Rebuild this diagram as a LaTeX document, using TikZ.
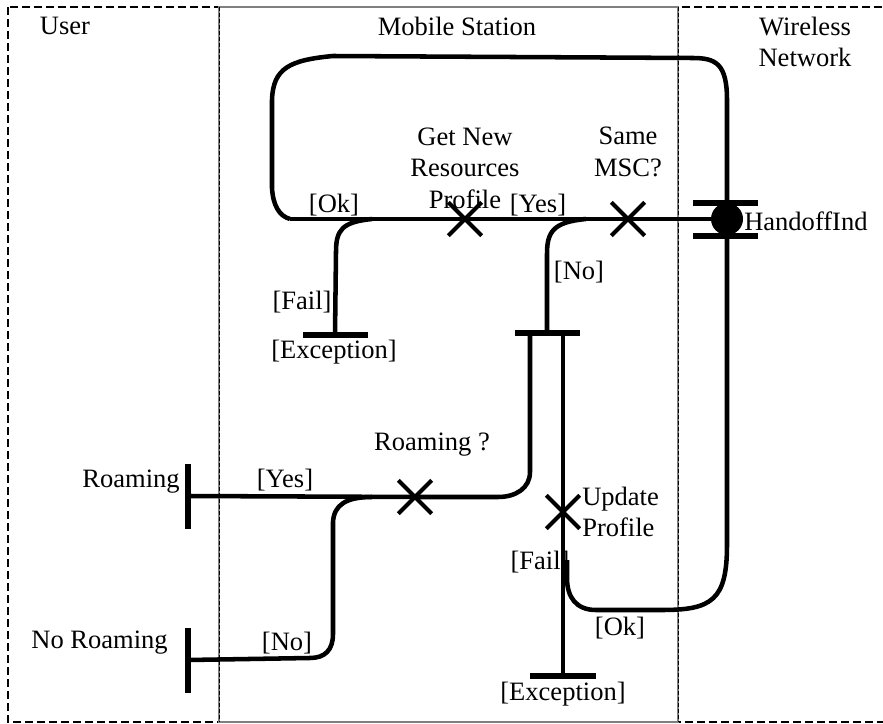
\documentclass[tikz,border=0pt]{standalone}
\usepackage{fontspec}
\setmainfont{Liberation Serif}
\usetikzlibrary{shapes.misc}
\begin{document}
\begin{tikzpicture}[x=0.75pt,y=-0.75pt,
  lbl/.style={inner sep=0pt, font=\fontsize{19.9}{23.6}\selectfont, align=center},
  flow/.style={line width=3.4pt, line cap=butt},
  xmark/.style={cross out, draw, line width=3pt, minimum size=22pt, inner sep=0pt},
  hbar/.style={fill, inner sep=0pt, minimum width=#1, minimum height=3.8pt},
  vbar/.style={fill, inner sep=0pt, minimum height=#1, minimum width=3.8pt},
  lane/.style={line width=0.8pt, dash pattern=on 6pt off 3pt},
  divider/.style={line width=0.6pt, dash pattern=on 3pt off 1.5pt}]
\useasboundingbox (0,0) rectangle (883,724);
\clip (0,0) rectangle (883,724);

% swimlanes
\draw[lane] (8,7) rectangle (900,722);
\draw[gray, line width=0.8pt] (219,7) rectangle (678,722);
\draw[divider] (219,7) -- (219,722);
\draw[divider] (678,7) -- (678,722);

\node[lbl] (user) at (65,26) {User};
\node[lbl] (ms) at (457,26) {Mobile Station};
\node[lbl] (wn) at (805,42) {Wireless\\Network};

% responsibilities and start/end points
\node[circle, fill, minimum size=24pt, inner sep=0pt] (hi) at (727,219) {};
\node[hbar=48.75pt] (hibarT) at (725,203) {};
\node[hbar=48.75pt] (hibarB) at (725,236) {};
\node[lbl, anchor=west] (hilbl) at (744,221) {HandoffInd};

\node[xmark] (gnr) at (465,219) {};
\node[xmark] (smsc) at (628,219) {};
\node[xmark] (rq) at (415,497) {};
\node[xmark] (up) at (563,512) {};

\node[hbar=48.75pt] (exc1) at (335,335) {};
\node[hbar=48.75pt] (fork) at (547,333) {};
\node[hbar=49.5pt] (exc2) at (563,676) {};
\node[vbar=48.75pt] (roam) at (188,496) {};
\node[vbar=48.75pt] (nroam) at (188,660) {};

\coordinate (forkL) at (530,333);
\coordinate (forkR) at (563,333);
\coordinate (okL) at (290,219);
\coordinate (okJ) at (372,219);
\coordinate (noJ) at (586,219);
\coordinate (yesJ) at (372,497);
\coordinate (failJ) at (567,560);

% labels
\node[lbl] at (465,168) {Get New\\Resources\\Profile};
\node[lbl] at (628,152) {Same\\MSC?};
\node[lbl] at (334,205) {[Ok]};
\node[lbl] at (538,205) {[Yes]};
\node[lbl] at (302,302) {[Fail]};
\node[lbl] at (334,352) {[Exception]};
\node[lbl] at (579,272) {[No]};
\node[lbl] at (432,445) {Roaming ?};
\node[lbl] at (285,480) {[Yes]};
\node[lbl, anchor=east] at (180,482) {Roaming};
\node[lbl, anchor=east] at (168,643) {No Roaming};
\node[lbl] at (287,643) {[No]};
\node[lbl, anchor=west, align=left] at (582,512) {Update\\Profile};
\node[lbl] at (540,562) {[Fail]};
\node[lbl] at (620,628) {[Ok]};
\node[lbl] at (563,694) {[Exception]};

% paths
\draw[flow] (hi.north) -- (727,100) .. controls (727,64) and (716,58) .. (693,58)
  -- (333,56) .. controls (290,60) and (273,68) .. (272,100) -- (272,188)
  .. controls (273,205) and (279,216) .. (okL);
\draw[flow] (okL) -- (gnr.center) -- (smsc.center) -- (hi.west);
\draw[flow] (okJ) .. controls (342,222) and (336,230) .. (336,252) -- (exc1.center);
\draw[flow] (noJ) .. controls (553,222) and (547,232) .. (547,254) -- (fork.center);
\draw[flow] (forkL) -- (530,472) .. controls (530,488) and (516,497) .. (498,497)
  -- (rq.center) -- (roam.center);
\draw[flow] (nroam.center) -- (310,658) .. controls (325,658) and (333,650) .. (333,634)
  -- (333,522) .. controls (334,505) and (346,497) .. (yesJ);
\draw[flow] (forkR) -- (up.center) -- (exc2.center);
\draw[flow] (hi.south) -- (727,545) .. controls (727,600) and (712,610) .. (662,610)
  -- (596,610) .. controls (576,610) and (567,597) .. (567,578) -- (failJ);
\end{tikzpicture}
\end{document}
